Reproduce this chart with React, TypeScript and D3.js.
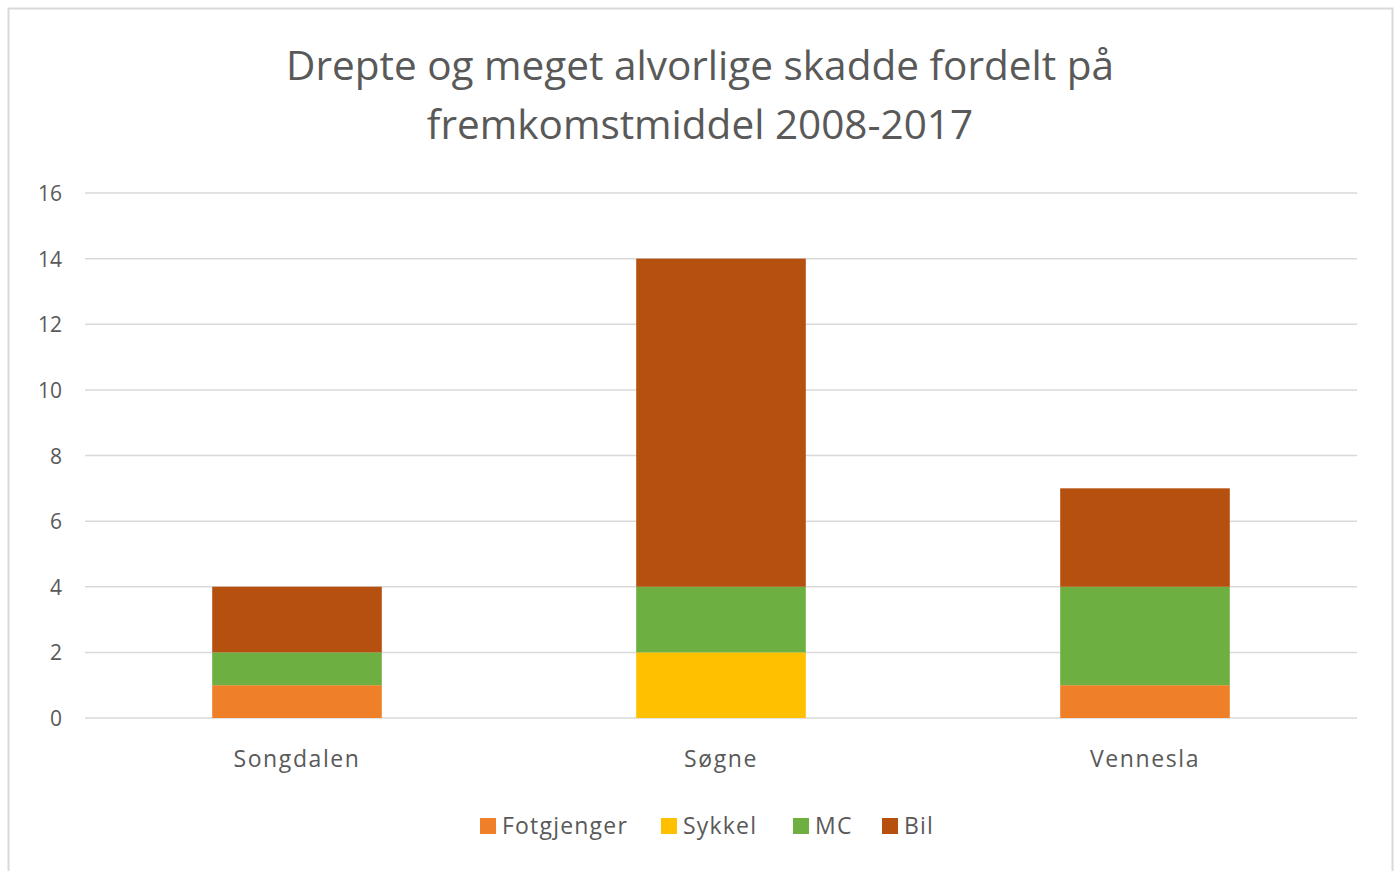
import React from "react";
import * as d3 from "d3";

// chart values
const categories = ["Songdalen", "Søgne", "Vennesla"];
const seriesNames = ["Fotgjenger", "Sykkel", "MC", "Bil"];
const fotgjenger = [1, 0, 1];
const sykkel = [0, 2, 0];
const mc = [1, 2, 3];
const bil = [2, 10, 3];
const yTicks = [0, 2, 4, 6, 8, 10, 12, 14, 16];
const colors = ["#F07F2A", "#FFC000", "#6DAF40", "#B5500F"];

const W = 1397;
const H = 871;
const font = "'Open Sans', 'Noto Sans', sans-serif";

export default function App() {
  const values = [fotgjenger, sykkel, mc, bil];
  const rows = categories.map((c, i) => {
    const r: any = { cat: c };
    seriesNames.forEach((s, j) => (r[s] = values[j][i]));
    return r;
  });
  const stacked = d3.stack().keys(seriesNames)(rows);

  const x = d3.scaleBand().domain(categories).range([85, 1357]).paddingInner(0).paddingOuter(0);
  const y = d3.scaleLinear().domain([0, 16]).range([718, 193]);
  const barW = x.step() * 0.4;

  const legendX = [480, 661, 793, 882];

  return (
    <svg width={W} height={H} style={{ position: "absolute", left: 0, top: 0 }}>
      <rect x={0} y={0} width={W} height={H} fill="#fff" />
      <rect x={8.5} y={8.5} width={1384} height={870} fill="#fff" stroke="#d9d9d9" strokeWidth={2} />
      <text x={700} y={80} textAnchor="middle" fontFamily={font} fontSize={40.5} fill="#595959">
        Drepte og meget alvorlige skadde fordelt på
      </text>
      <text x={700} y={139} textAnchor="middle" fontFamily={font} fontSize={40.5} fill="#595959">
        fremkomstmiddel 2008-2017
      </text>
      {yTicks.map((t) => (
        <g key={t}>
          <line x1={85} x2={1357} y1={y(t)} y2={y(t)} stroke="#d9d9d9" strokeWidth={1.5} />
          <text x={62} y={y(t) + 8} textAnchor="end" fontFamily={font} fontSize={21} fill="#595959">
            {t}
          </text>
        </g>
      ))}
      {stacked.map((s, j) => (
        <g key={s.key} fill={colors[j]}>
          {s.map((d, i) =>
            d[1] > d[0] ? (
              <rect
                key={i}
                x={(x(categories[i]) as number) + x.step() / 2 - barW / 2}
                y={y(d[1])}
                width={barW}
                height={y(d[0]) - y(d[1])}
              />
            ) : null
          )}
        </g>
      ))}
      {categories.map((c) => (
        <text
          key={c}
          x={(x(c) as number) + x.step() / 2}
          y={767}
          textAnchor="middle"
          fontFamily={font}
          fontSize={23}
          letterSpacing={1.6}
          fill="#595959"
        >
          {c}
        </text>
      ))}
      {seriesNames.map((s, j) => (
        <g key={s}>
          <rect x={legendX[j]} y={818} width={16} height={16} fill={colors[j]} />
          <text x={legendX[j] + 22} y={834} fontFamily={font} fontSize={23} letterSpacing={1.2} fill="#595959">
            {s}
          </text>
        </g>
      ))}
    </svg>
  );
}
